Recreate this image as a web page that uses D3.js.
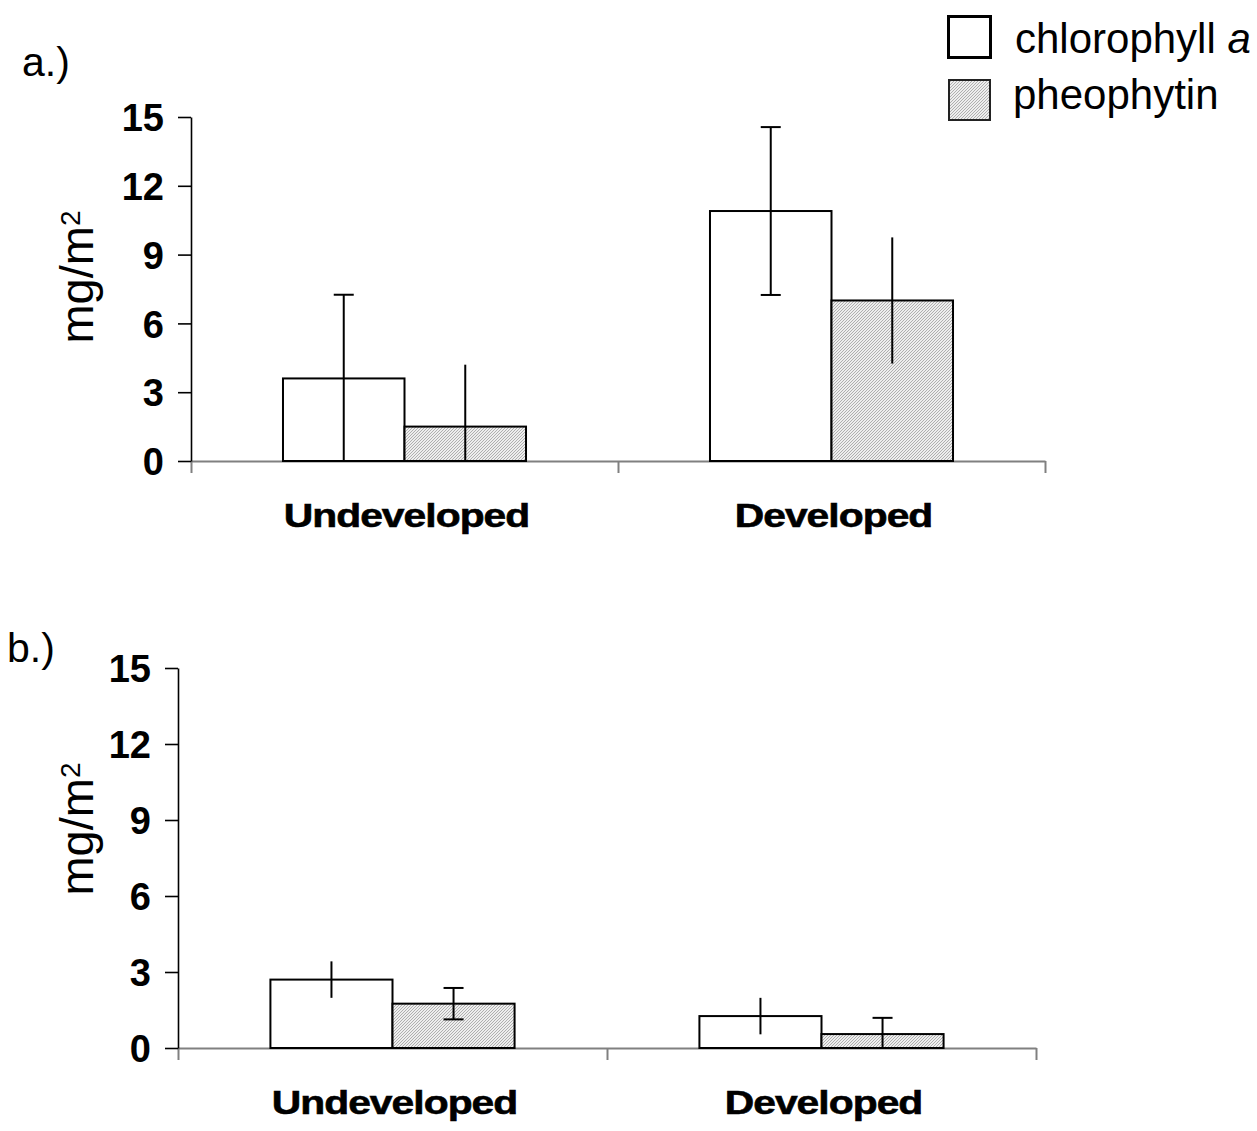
<!DOCTYPE html>
<html>
<head>
<meta charset="utf-8">
<script src="https://cdn.jsdelivr.net/npm/d3@7"></script>
<style>
  body { margin: 0; background: #fff; }
  svg { display: block; font-family: "Liberation Sans", Arial, sans-serif; }
</style>
</head>
<body>
<div id="chart"></div>
<script>
// categories + series
const categories = ['Undeveloped', 'Developed'];
const seriesNames = ['chlorophyll', 'pheophytin'];
const yTicks = [0, 3, 6, 9, 12, 15];

// panel a.) means and error (read off the picture)
const chlA = [3.6, 10.9];
const chlAErr = [3.65, 3.66];
const pheoA = [1.5, 7.0];
const pheoAErr = [2.7, 2.75];

// panel b.)
const chlB = [2.7, 1.26];
const chlBErr = [0.72, 0.72];
const pheoB = [1.75, 0.55];
const pheoBErr = [0.62, 0.64];

// which error bar ends have a cap in the original
const capsA = [['top', 'none'], ['both', 'none']];
const capsB = [['none', 'both'], ['none', 'top']];

const W = 1257, H = 1131;

const svg = d3.select('#chart')
	.append('svg')
	.attr('width', W)
	.attr('height', H);

// hatch used for pheophytin
const defs = svg.append('defs');
const pat = defs.append('pattern')
	.attr('id', 'hatch')
	.attr('patternUnits', 'userSpaceOnUse')
	.attr('width', 3)
	.attr('height', 3);
pat.append('rect').attr('width', 3).attr('height', 3).attr('fill', '#eeeeee');
pat.append('path')
	.attr('d', 'M-1,1 l2,-2 M0,3 l3,-3 M2,4 l2,-2')
	.attr('stroke', '#a8a8a8')
	.attr('stroke-width', 0.9);

const fills = ['#ffffff', 'url(#hatch)'];

function renderPanel(opts){
	const {x0, x1, yTop, yBottom, chl, chlErr, pheo, pheoErr, caps, labelX, labelY, tag, tagX, tagY, yLabelX, yLabelY} = opts;

	const g = svg.append('g');

	const y = d3.scaleLinear().domain([0, 15]).range([yBottom, yTop]);
	const cat = d3.scaleBand().domain(categories).range([x0, x1]).padding(0);
	const ser = d3.scaleBand().domain(seriesNames).range([0, cat.bandwidth()])
		.paddingInner(0).paddingOuter(0.757);
	const bounds = d3.scaleLinear().domain([0, categories.length]).range([x0, x1]);

	// x axis (grey) with ticks between categories
	const xAxis = g.append('g')
		.attr('transform', `translate(0,${yBottom})`)
		.call(d3.axisBottom(bounds).tickValues([0, 1, 2]).tickSize(12).tickSizeOuter(0).tickFormat(''));
	xAxis.select('.domain').attr('stroke', '#808080').attr('stroke-width', 2);
	xAxis.selectAll('.tick line').attr('stroke', '#808080').attr('stroke-width', 2);

	// y axis
	const yAxis = g.append('g')
		.attr('transform', `translate(${x0},0)`)
		.call(d3.axisLeft(y).tickValues(yTicks).tickSize(13).tickSizeOuter(0).tickPadding(14));
	yAxis.select('.domain').attr('stroke', '#000').attr('stroke-width', 1.6);
	yAxis.selectAll('.tick line').attr('stroke', '#000').attr('stroke-width', 1.6);
	yAxis.selectAll('.tick text')
		.attr('fill', '#000')
		.style('font-size', '38px')
		.style('font-weight', 'bold')
		.attr('dy', '0.36em');

	const rows = [];
	categories.forEach(function(c, i){
		rows.push({cat: c, s: 0, v: chl[i], e: chlErr[i], cap: caps[i][0]});
		rows.push({cat: c, s: 1, v: pheo[i], e: pheoErr[i], cap: caps[i][1]});
	});

	g.selectAll('.bar')
		.data(rows)
		.enter()
		.append('rect')
		.attr('class', 'bar')
		.attr('x', function(d){return cat(d.cat) + ser(seriesNames[d.s])})
		.attr('y', function(d){return y(d.v)})
		.attr('width', ser.bandwidth())
		.attr('height', function(d){return y(0) - y(d.v)})
		.attr('fill', function(d){return fills[d.s]})
		.attr('stroke', '#000')
		.attr('stroke-width', 2);

	const errs = g.selectAll('.err')
		.data(rows)
		.enter()
		.append('g')
		.attr('class', 'err')
		.attr('transform', function(d){
			return `translate(${cat(d.cat) + ser(seriesNames[d.s]) + ser.bandwidth() / 2},0)`;
		});

	errs.append('line')
		.attr('y1', function(d){return y(d.v + d.e)})
		.attr('y2', function(d){return y(Math.max(0, d.v - d.e))})
		.attr('stroke', '#000')
		.attr('stroke-width', 2);

	errs.filter(function(d){return d.cap == 'top' || d.cap == 'both'})
		.append('line')
		.attr('x1', -10).attr('x2', 10)
		.attr('y1', function(d){return y(d.v + d.e)})
		.attr('y2', function(d){return y(d.v + d.e)})
		.attr('stroke', '#000')
		.attr('stroke-width', 2);

	errs.filter(function(d){return d.cap == 'both'})
		.append('line')
		.attr('x1', -10).attr('x2', 10)
		.attr('y1', function(d){return y(d.v - d.e)})
		.attr('y2', function(d){return y(d.v - d.e)})
		.attr('stroke', '#000')
		.attr('stroke-width', 2);

	// category labels, stretched wide like the original
	g.selectAll('.cat-label')
		.data(categories)
		.enter()
		.append('text')
		.attr('class', 'cat-label')
		.attr('transform', function(d){
			return `translate(${cat(d) + cat.bandwidth() / 2 + labelX},${yBottom + labelY}) scale(1.2,1)`;
		})
		.attr('text-anchor', 'middle')
		.attr('stroke', '#000')
		.attr('stroke-width', 0.6)
		.style('font-size', '34px')
		.style('font-weight', 'bold')
		.style('letter-spacing', '-0.8px')
		.text(function(d){return d});

	// y title
	const yt = g.append('text')
		.attr('transform', `translate(${yLabelX},${yLabelY}) rotate(-90)`)
		.attr('text-anchor', 'middle')
		.style('font-size', '47px');
	yt.append('tspan').text('mg/m');
	yt.append('tspan').attr('dy', '-0.45em').style('font-size', '28px').text('2');

	g.append('text')
		.attr('x', tagX)
		.attr('y', tagY)
		.style('font-size', '41px')
		.text(tag);
}

renderPanel({
	x0: 191, x1: 1045, yTop: 117, yBottom: 461,
	chl: chlA, chlErr: chlAErr, pheo: pheoA, pheoErr: pheoAErr, caps: capsA,
	labelX: 2, labelY: 66,
	tag: 'a.)', tagX: 22, tagY: 76,
	yLabelX: 93, yLabelY: 277
});

renderPanel({
	x0: 178, x1: 1036, yTop: 668, yBottom: 1048,
	chl: chlB, chlErr: chlBErr, pheo: pheoB, pheoErr: pheoBErr, caps: capsB,
	labelX: 2, labelY: 66,
	tag: 'b.)', tagX: 7, tagY: 662,
	yLabelX: 93, yLabelY: 829
});

// legend
const legend = svg.append('g').attr('class', 'legend');
legend.append('rect')
	.attr('x', 948.5).attr('y', 16.5).attr('width', 42).attr('height', 41)
	.attr('fill', '#fff').attr('stroke', '#000').attr('stroke-width', 3);
legend.append('rect')
	.attr('x', 949).attr('y', 80).attr('width', 41).attr('height', 40)
	.attr('fill', 'url(#hatch)').attr('stroke', '#222').attr('stroke-width', 2);

const lt1 = legend.append('text')
	.attr('x', 1015).attr('y', 53)
	.style('font-size', '42px');
lt1.append('tspan').text('chlorophyll ');
lt1.append('tspan').style('font-style', 'italic').text('a');

legend.append('text')
	.attr('x', 1013).attr('y', 109)
	.style('font-size', '42px')
	.text('pheophytin');
</script>
</body>
</html>
